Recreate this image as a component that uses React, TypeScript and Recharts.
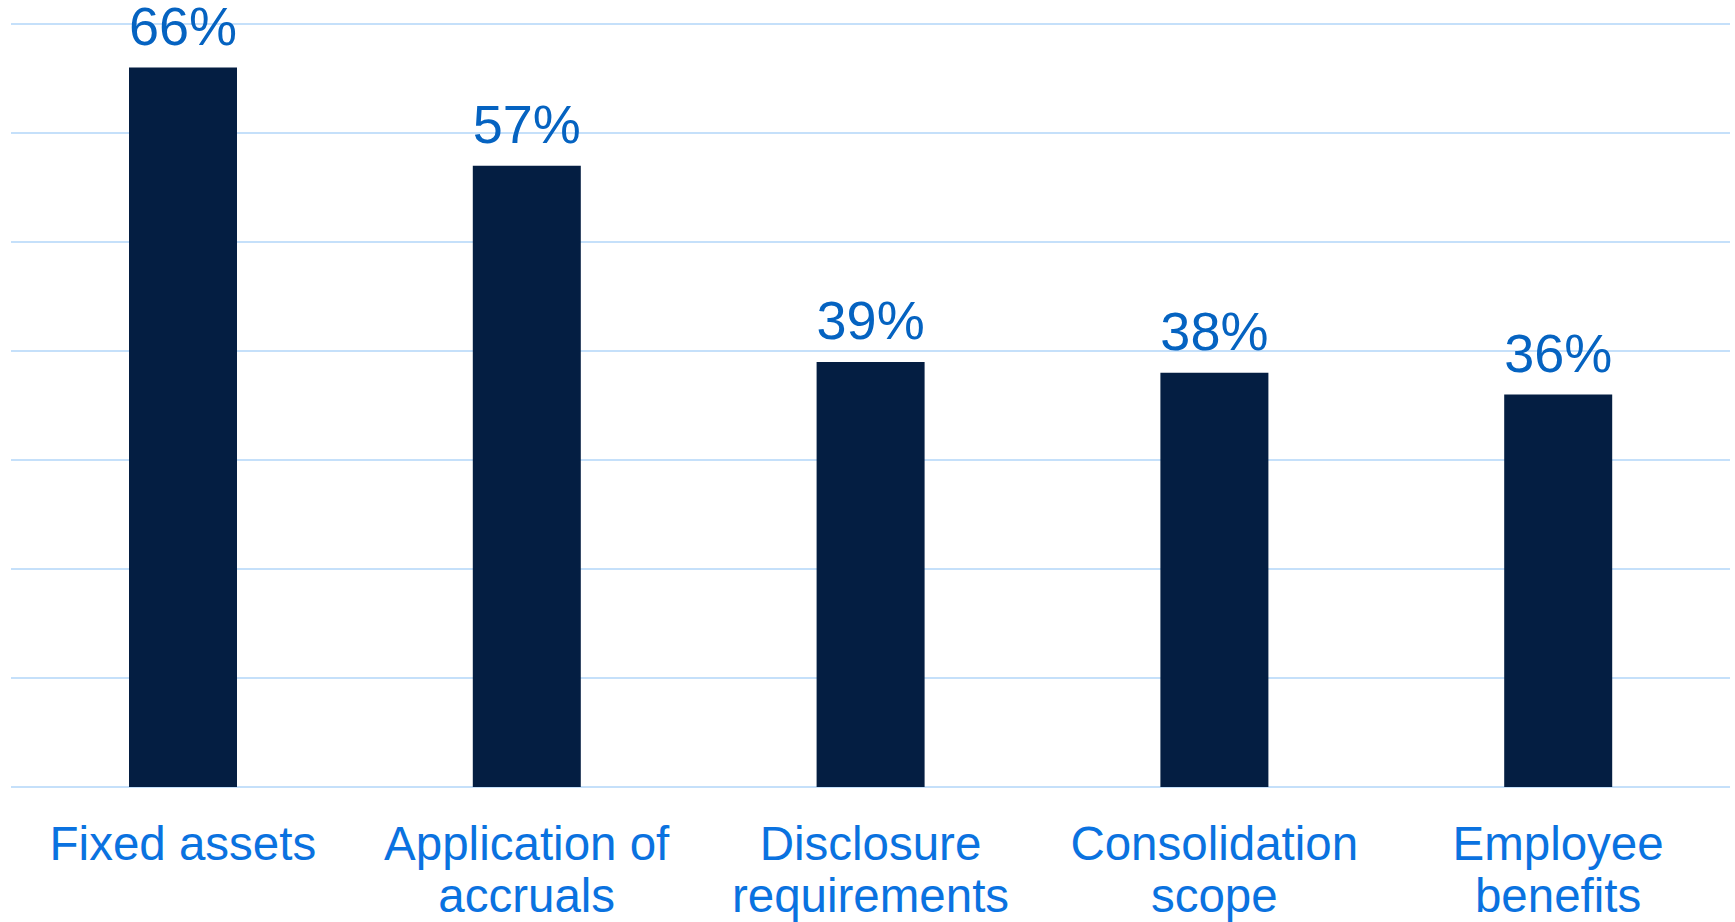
import React from 'react';
import { BarChart, Bar, XAxis, YAxis, CartesianGrid, LabelList } from 'recharts';

const categories = [
  'Fixed assets',
  'Application of accruals',
  'Disclosure requirements',
  'Consolidation scope',
  'Employee benefits',
];
const categoryLines = [
  ['Fixed assets'],
  ['Application of', 'accruals'],
  ['Disclosure', 'requirements'],
  ['Consolidation', 'scope'],
  ['Employee', 'benefits'],
];
const shares = [66, 57, 39, 38, 36];
const yTicks = [0, 10, 20, 30, 40, 50, 60, 70];

const data = categories.map((name, i) => ({ name, value: shares[i] }));

const barColor = '#041E42';
const valueColor = '#0563C1';
const catColor = '#0A72E0';
const gridColor = '#C5E0FA';
const font = '"Liberation Sans", Arial, sans-serif';

const CategoryTick = (props: any) => {
  const { x, y, index } = props;
  const lines = categoryLines[index] || [props.payload.value];
  return (
    <text x={x} y={y} textAnchor="middle" fill={catColor} fontSize={47.5} fontFamily={font}>
      {lines.map((l: string, i: number) => (
        <tspan key={i} x={x} y={y + 73 + i * 52}>{l}</tspan>
      ))}
    </text>
  );
};

const ValueLabel = (props: any) => {
  const { x, y, width, value } = props;
  return (
    <text x={x + width / 2} y={y - 23} textAnchor="middle" fill={valueColor} fontSize={54} fontFamily={font}>
      {value}%
    </text>
  );
};

export default function App() {
  return (
    <div style={{ position: 'absolute', left: 0, top: 0, width: 1735, height: 922, background: '#fff' }}>
      <BarChart width={1735} height={922} data={data} margin={{ top: 24, right: 5, left: 11, bottom: 0 }}>
        <CartesianGrid vertical={false} stroke={gridColor} strokeWidth={2} />
        <YAxis hide domain={[0, 70]} ticks={yTicks} />
        <XAxis
          dataKey="name"
          height={135}
          axisLine={false}
          tickLine={false}
          tickSize={0}
          tickMargin={0}
          interval={0}
          tick={<CategoryTick />}
        />
        <Bar dataKey="value" fill={barColor} barSize={108} isAnimationActive={false}>
          <LabelList dataKey="value" content={<ValueLabel />} />
        </Bar>
      </BarChart>
    </div>
  );
}
